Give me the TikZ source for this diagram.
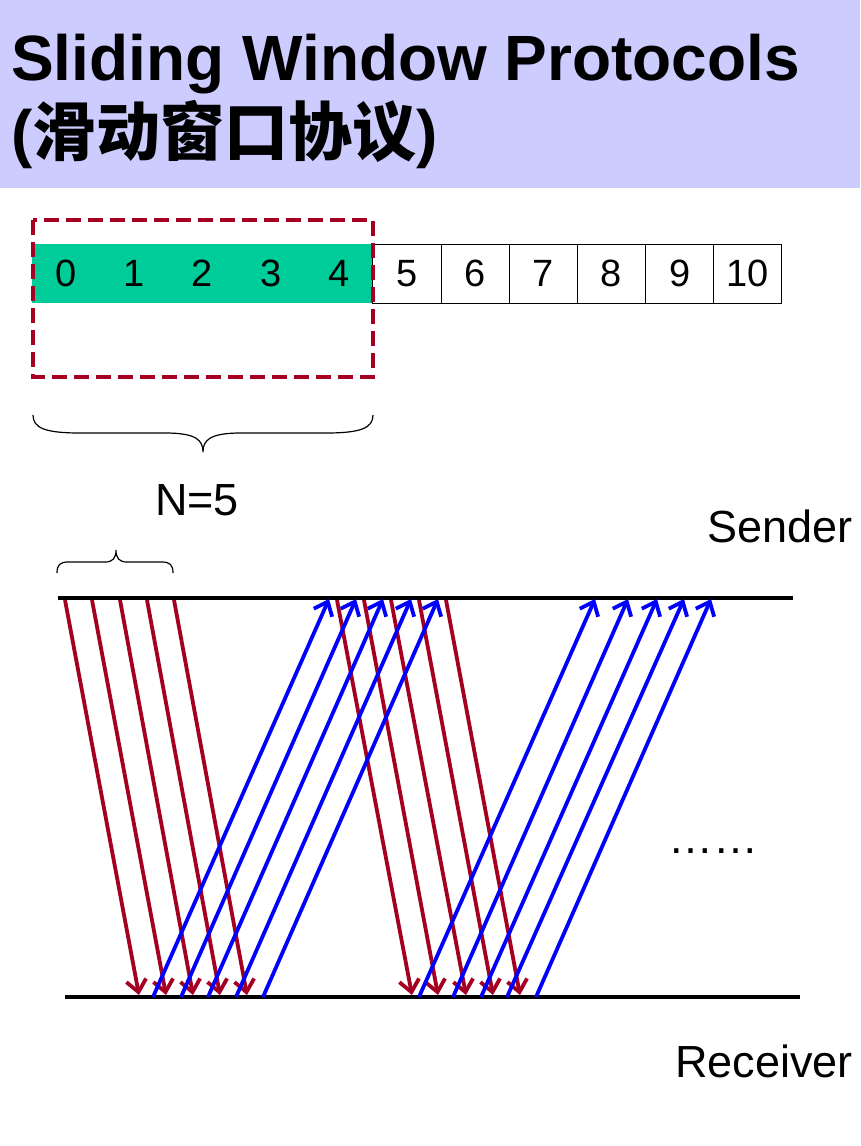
\documentclass[tikz,border=0pt]{standalone}
\usepackage{fontspec}
\setmainfont{Liberation Sans}
\newfontfamily\cjk{Noto Sans CJK SC}
\usetikzlibrary{arrows.meta}
\definecolor{lav}{HTML}{CCCCFF}
\definecolor{grn}{HTML}{00CC99}
\definecolor{dred}{HTML}{A50021}
\definecolor{blu}{HTML}{0000FF}
\begin{document}
\begin{tikzpicture}[x=1pt,y=-1pt,
  titletext/.style={anchor=base west,inner sep=0pt,font=\fontsize{64}{64}\selectfont\bfseries},
  label/.style={inner sep=0pt,font=\fontsize{45}{45}\selectfont},
  cell/.style={minimum width=68.18pt,minimum height=59pt,inner sep=0pt,font=\fontsize{38}{38}\selectfont},
  wincell/.style={cell,fill=grn},
  plaincell/.style={cell,fill=white,draw=black,line width=1pt},
  window/.style={draw=dred,line width=3.2pt,dash pattern=on 15pt off 7pt},
  brace/.style={draw=black,line width=1.2pt},
  timeline/.style={draw=black,line width=4pt},
  arr/.style={line width=3.8pt,-{Straight Barb[length=12pt,width=20pt]}},
  dataarr/.style={arr,draw=dred},
  ackarr/.style={arr,draw=blu}]
\useasboundingbox (0,0) rectangle (860,1146);
% title band
\fill[lav] (0,0) rectangle (860,188);
\node[titletext] (t1) at (11,80) {Sliding Window Protocols};
\node[titletext] (t2) at (11,155) {({\cjk 滑动窗口协议})};
% sequence cells
\foreach \i in {0,...,4}
  \node[wincell] (c\i) at ({32+68.18*\i+34.09},273.5) {\i};
\foreach \i in {5,...,10}
  \node[plaincell] (c\i) at ({32+68.18*\i+34.09},273.5) {\i};
% window
\draw[window] (33,220) rectangle (373,377);
% big brace
\draw[brace] (33,415) .. controls (33,428) and (45,433) .. (80,433)
  -- (165,433) .. controls (196,433) and (203,440) .. (203,452)
  .. controls (203,440) and (210,433) .. (241,433)
  -- (326,433) .. controls (361,433) and (373,428) .. (373,415);
\node[label,anchor=base] (n5) at (197,515) {N=5};
% small brace
\draw[brace] (57,573) .. controls (57,565) and (60,562) .. (68,562)
  -- (105,562) .. controls (113,562) and (116,558) .. (116,550)
  .. controls (116,558) and (119,562) .. (127,562)
  -- (162,562) .. controls (170,562) and (173,565) .. (173,573);
% timelines
\node[label,anchor=base east] (snd) at (853,542) {Sender};
\node[label,anchor=base east] (rcv) at (853,1077) {Receiver};
\coordinate (sL) at (58,598);
\coordinate (sR) at (793,598);
\coordinate (rL) at (65,997);
\coordinate (rR) at (800,997);
\draw[timeline] (sL) -- (sR);
\draw[timeline] (rL) -- (rR);
% data frames (sender -> receiver)
\foreach \a/\b [count=\k] in {65/139,92/166,120/193,147/220,174/247,337/412,364/438,391/466,419/493,446/520}{
  \coordinate (dt\k) at (\a,600);
  \coordinate (db\k) at (\b,995);
  \draw[dataarr] (dt\k) -- (db\k);
}
% acks (receiver -> sender)
\foreach \a/\b [count=\k] in {153/329,181/356,208/383,236/411,263/438,419/595,453/628,481/657,507/684,536/711}{
  \coordinate (ab\k) at (\a,997);
  \coordinate (at\k) at (\b,599);
  \draw[ackarr] (ab\k) -- (at\k);
}
\node[label,anchor=base west] (dots) at (668,853) {……};
\end{tikzpicture}
\end{document}
